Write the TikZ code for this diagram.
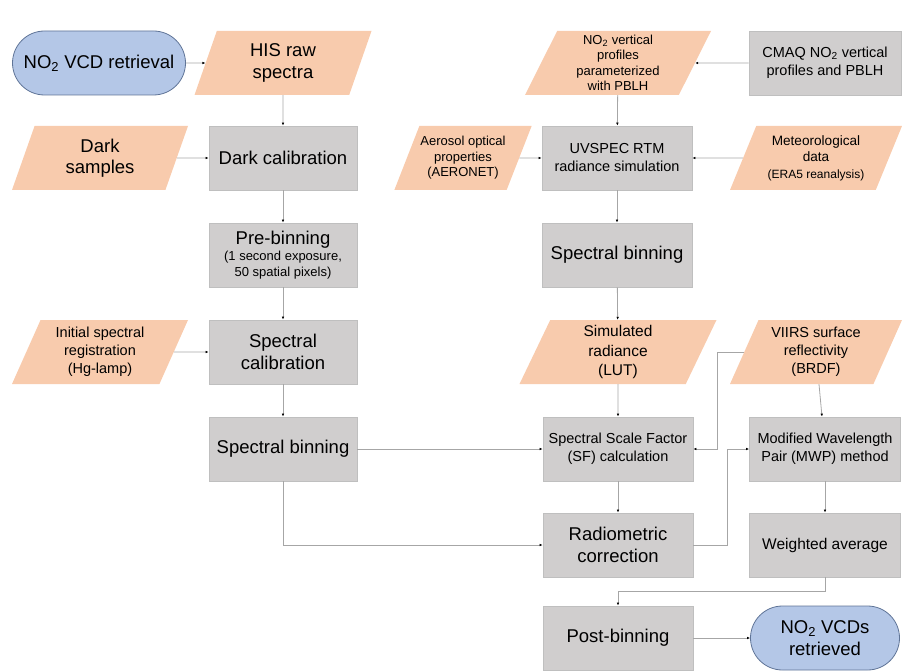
\documentclass[tikz,border=0pt]{standalone}
\usepackage{fontspec}
\setmainfont{Liberation Sans}
\usetikzlibrary{shapes.geometric, shapes.misc, arrows.meta}

\definecolor{procfill}{HTML}{D0CECE}
\definecolor{procline}{HTML}{BFBFBF}
\definecolor{datafill}{HTML}{F8CBAD}
\definecolor{termfill}{HTML}{B4C7E7}
\definecolor{termline}{HTML}{5F7497}
\definecolor{flowline}{HTML}{A6A6A6}

\begin{document}
\begin{tikzpicture}[x=1pt, y=-1pt,
    bigf/.style={font=\fontsize{18.5}{21.5}\selectfont},
    midf/.style={font=\fontsize{14.5}{18}\selectfont},
    smallf/.style={font=\fontsize{13}{15.5}\selectfont},
    procbox/.style={rectangle, draw=procline, fill=procfill, line width=0.8pt,
        minimum width=150pt, minimum height=64pt, inner sep=1pt, align=center},
    databox/.style={trapezium, trapezium left angle=61, trapezium right angle=119,
        trapezium stretches body, fill=datafill, draw=none,
        minimum height=64pt, inner sep=1pt, align=center},
    termbox/.style={rounded rectangle, draw=termline, fill=termfill, line width=0.8pt,
        minimum height=64pt, inner sep=1pt, align=center},
    flow/.style={draw=flowline, line width=0.8pt,
        -{Latex[length=3pt, width=2.6pt, color=black]}},
    ]
\useasboundingbox (0,0) rectangle (902,671);

% left column
\node[termbox, bigf, minimum width=175pt] (start) at (99,63) {NO\textsubscript{2} VCD retrieval};
\node[databox, bigf, minimum width=177pt] (hisraw) at (283,63) {HIS raw\\spectra};
\node[procbox, bigf, minimum width=148pt] (darkcal) at (283,158) {Dark calibration};
\node[databox, bigf, minimum width=176pt] (darksmp) at (100,158) {Dark\\samples};
\node[procbox, smallf, minimum width=148pt] (prebin) at (283,255)
    {\fontsize{18.5}{21.5}\selectfont Pre-binning\\[1pt]
     (1 second exposure,\\50 spatial pixels)};
\node[procbox, bigf, minimum width=148pt] (speccal) at (283,352) {Spectral\\calibration};
\node[databox, midf, minimum width=176pt] (initreg) at (100,352)
    {Initial spectral\\registration\\(Hg-lamp)};
\node[procbox, bigf, minimum width=148pt] (binleft) at (283,449) {Spectral binning};

% right columns
\node[databox, smallf, minimum width=186pt] (no2prof) at (618,63)
    {NO\textsubscript{2} vertical\\profiles\\parameterized\\with PBLH};
\node[procbox, midf, minimum width=152pt] (cmaq) at (825,63)
    {CMAQ NO\textsubscript{2} vertical\\profiles and PBLH};
\node[procbox, midf] (uvspec) at (617,158) {UVSPEC RTM\\radiance simulation};
\node[databox, smallf, minimum width=132pt] (aerosol) at (463,158)
    {Aerosol optical\\properties\\(AERONET)};
\node[databox, font=\fontsize{13.6}{16.5}\selectfont, minimum width=172pt] (meteo) at (816,158)
    {Meteorological\\data\\
     \fontsize{12}{15}\selectfont (ERA5 reanalysis)};
\node[procbox, bigf] (binright) at (617,255) {Spectral binning};
\node[databox, font=\fontsize{15.5}{19.5}\selectfont, minimum width=197pt] (simrad) at (618,352)
    {Simulated\\radiance\\(LUT)};
\node[databox, midf, minimum width=172pt] (viirs) at (816,352)
    {VIIRS surface\\reflectivity\\(BRDF)};
\node[procbox, midf] (sfcalc) at (618,449) {Spectral Scale Factor\\(SF) calculation};
\node[procbox, midf, minimum width=151pt] (mwp) at (825,449)
    {Modified Wavelength\\Pair (MWP) method};
\node[procbox, bigf] (radcorr) at (618,545) {Radiometric\\correction};
\node[procbox, font=\fontsize{15.5}{19}\selectfont, minimum width=151pt] (wavg) at (825,545)
    {Weighted average};
\node[procbox, bigf] (postbin) at (618,638) {Post-binning};
\node[termbox, bigf, minimum width=151pt] (vcds) at (825,638)
    {NO\textsubscript{2} VCDs\\retrieved};

% connectors
\draw[flow] (start) -- (hisraw);
\draw[flow] (hisraw) -- (darkcal);
\draw[flow] (darksmp) -- (darkcal);
\draw[flow] (darkcal) -- (prebin);
\draw[flow] (prebin) -- (speccal);
\draw[flow] (initreg) -- (speccal);
\draw[flow] (speccal) -- (binleft);
\draw[flow] (binleft) -- (sfcalc);
\draw[flow] (binleft.south) |- (radcorr.west);
\draw[flow] (cmaq) -- (no2prof);
\draw[flow] (no2prof) -- (uvspec);
\draw[flow] (aerosol) -- (uvspec);
\draw[flow] (meteo) -- (uvspec);
\draw[flow] (uvspec) -- (binright);
\draw[flow] (binright) -- (simrad);
\draw[flow] (simrad) -- (sfcalc);
\draw[flow] (viirs.west) -- ++(-27,0) |- (sfcalc.east);
\draw[flow] (viirs) -- (mwp);
\draw[flow] (sfcalc) -- (radcorr);
\draw[flow] (radcorr.east) -- ++(34,0) |- (mwp.west);
\draw[flow] (mwp) -- (wavg);
\draw[flow] (wavg.south) -- ++(0,14) -| (postbin.north);
\draw[flow] (postbin) -- (vcds);
\end{tikzpicture}
\end{document}
